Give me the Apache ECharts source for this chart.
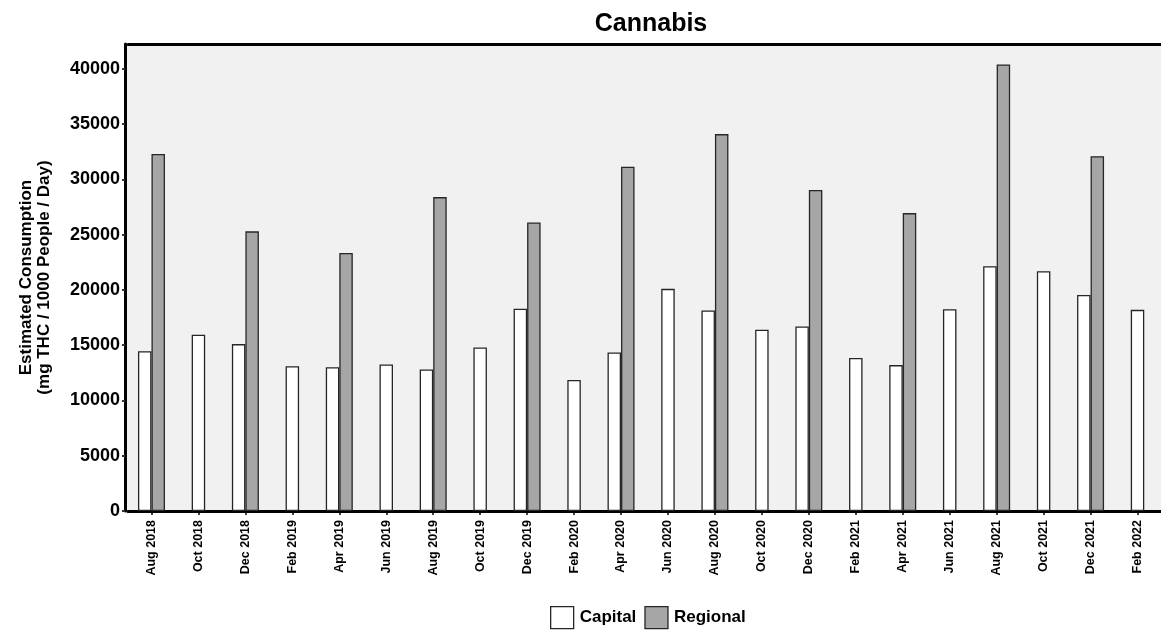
<!DOCTYPE html>
<html>
<head>
<meta charset="utf-8">
<title>Cannabis</title>
<script src="https://cdn.jsdelivr.net/npm/echarts@6/dist/echarts.min.js"></script>
<style>
  html, body { margin: 0; padding: 0; background: #ffffff; }
  #chart { width: 1161px; height: 631px; }
</style>
</head>
<body>
<div id="chart"></div>
<script>
// Sampling months (every second month)
const months = [
  'Aug 2018', 'Oct 2018', 'Dec 2018', 'Feb 2019', 'Apr 2019', 'Jun 2019',
  'Aug 2019', 'Oct 2019', 'Dec 2019', 'Feb 2020', 'Apr 2020', 'Jun 2020',
  'Aug 2020', 'Oct 2020', 'Dec 2020', 'Feb 2021', 'Apr 2021', 'Jun 2021',
  'Aug 2021', 'Oct 2021', 'Dec 2021', 'Feb 2022'
];

// Estimated consumption, mg THC / 1000 people / day
const capital = [
  14450, 15950, 15100, 13100, 13000, 13250,
  12800, 14800, 18300, 11850, 14350, 20100,
  18150, 16400, 16700, 13850, 13200, 18250,
  22150, 21700, 19550, 18200
];

// Regional sites were sampled every fourth month only
const regional = [
  32300, null, 25300, null, 23350, null,
  28400, null, 26100, null, 31150, null,
  34100, null, 29050, null, 26950, null,
  40400, null, 32100, null
];

const yTicks = [0, 5000, 10000, 15000, 20000, 25000, 30000, 35000, 40000];
const yMax = 42250;

// Months with both series are drawn side by side; months with only the
// capital sample get a single centred bar.
const capitalPaired = capital.map((v, i) => regional[i] == null ? null : v);
const capitalAlone = capital.map((v, i) => regional[i] == null ? v : null);

const FONT = "'Liberation Sans', Arial, Helvetica, sans-serif";
const BAR_W = 13.5;
const EDGE = '#262626';

const chart = echarts.init(document.getElementById('chart'), null, { renderer: 'canvas' });

chart.setOption({
  animation: false,
  backgroundColor: '#ffffff',
  textStyle: { fontFamily: FONT },
  title: {
    text: 'Cannabis',
    left: 646,
    top: 7,
    textAlign: 'center',
    textStyle: { fontFamily: FONT, fontSize: 25, fontWeight: 'bold', color: '#000' }
  },
  // plot panel background
  graphic: [{
    type: 'rect',
    z: -10,
    silent: true,
    shape: { x: 125, y: 44, width: 1060, height: 467 },
    style: { fill: '#f1f1f1' }
  }],
  legend: {
    data: ['Capital', 'Regional'],
    left: 550,
    top: 606,
    padding: 0,
    icon: 'rect',
    itemWidth: 23,
    itemHeight: 22,
    itemGap: 8,
    selectedMode: false,
    itemStyle: { borderColor: EDGE, borderWidth: 1.3 },
    textStyle: { fontFamily: FONT, fontSize: 17, fontWeight: 'bold', color: '#000', padding: [0, 0, 0, 1] }
  },
  grid: {
    left: 128,
    right: -10,
    top: 44,
    bottom: 120,
    containLabel: false
  },
  xAxis: [
    {
      type: 'category',
      data: months,
      position: 'bottom',
      boundaryGap: true,
      axisLine: { show: true, onZero: false, lineStyle: { color: '#000', width: 3 } },
      axisTick: { show: true, alignWithLabel: true, length: 4, lineStyle: { color: '#000', width: 1.5 } },
      axisLabel: {
        rotate: 90,
        interval: 0,
        margin: 9,
        fontFamily: FONT,
        fontSize: 12.5,
        fontWeight: 'bold',
        color: '#000'
      },
      splitLine: { show: false }
    },
    {
      type: 'category',
      data: months,
      position: 'top',
      boundaryGap: true,
      axisLine: { show: true, onZero: false, lineStyle: { color: '#000', width: 3 } },
      axisTick: { show: false },
      axisLabel: { show: false },
      splitLine: { show: false }
    }
  ],
  yAxis: {
    type: 'value',
    min: 0,
    max: yMax,
    interval: yTicks[1] - yTicks[0],
    offset: 3,
    name: 'Estimated Consumption\n(mg THC / 1000 People / Day)',
    nameLocation: 'middle',
    nameRotate: 90,
    nameGap: 72,
    nameTextStyle: {
      fontFamily: FONT,
      fontSize: 17,
      fontWeight: 'bold',
      color: '#000',
      lineHeight: 18
    },
    axisLine: { show: true, lineStyle: { color: '#000', width: 3 } },
    axisTick: { show: true, length: 3, lineStyle: { color: '#333', width: 2 } },
    axisLabel: {
      showMaxLabel: false,
      margin: 5,
      fontFamily: FONT,
      fontSize: 18,
      fontWeight: 'bold',
      color: '#000',
      formatter: v => (yTicks.indexOf(v) >= 0 ? String(v) : '')
    },
    splitLine: { show: false }
  },
  series: [
    {
      name: 'Capital',
      type: 'bar',
      xAxisIndex: 0,
      data: capitalPaired,
      barWidth: BAR_W,
      barGap: '0%',
      itemStyle: { color: '#ffffff', borderColor: EDGE, borderWidth: 1.3 }
    },
    {
      name: 'Regional',
      type: 'bar',
      xAxisIndex: 0,
      data: regional,
      barWidth: BAR_W,
      barGap: '0%',
      itemStyle: { color: '#a6a6a6', borderColor: EDGE, borderWidth: 1.3 }
    },
    {
      name: 'Capital',
      type: 'bar',
      xAxisIndex: 1,
      data: capitalAlone,
      barWidth: BAR_W,
      itemStyle: { color: '#ffffff', borderColor: EDGE, borderWidth: 1.3 }
    }
  ]
});
</script>
</body>
</html>
